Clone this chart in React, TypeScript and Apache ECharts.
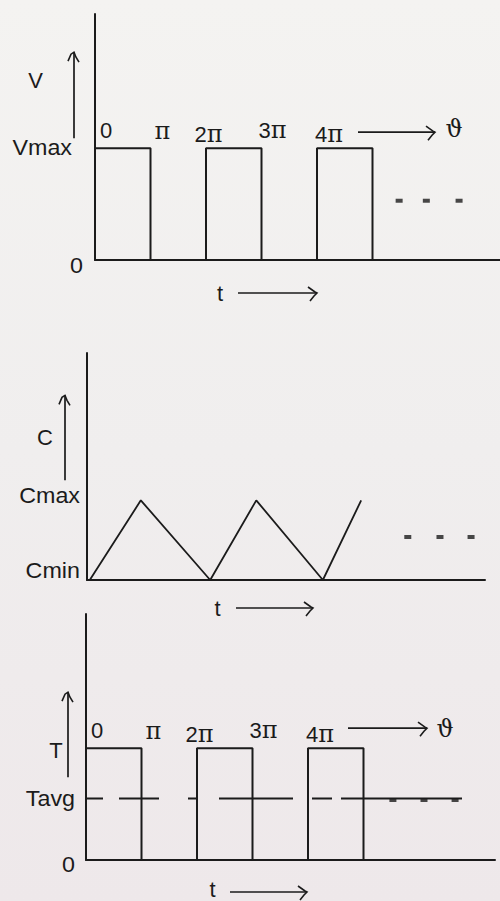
import React, { useEffect, useRef } from "react";
import * as echarts from "echarts";

// Phase is measured in multiples of π (θ / π).
const phaseTicks = [0, 1, 2, 3, 4];
const phaseTickLabels = ["0", "π", "2π", "3π", "4π"];

// Supply voltage: square pulses switching at every multiple of π.
const voltageEdges = [0, 1, 2, 3, 4, 5];
const vmax = 1;
const voltageDots = [5.48, 5.97, 6.56];
const voltageDotLevel = 0.53;

// Capacitance swinging between Cmin (0) and Cmax (1).
const capPhase = [0.05, 0.97, 2.22, 3.05, 4.25, 4.94];
const capLevel = [0, 1, 0, 1, 0, 1];
const capDots = [5.78, 6.36, 6.92];
const capDotLevel = 0.54;

// Torque pulses and their average value.
const torqueEdges = [0, 1, 2, 3, 4, 5];
const tPeak = 1;
const tAvg = 0.55;
const tAvgEnd = 6.78;
const torqueDots = [5.53, 6.09, 6.65];

// ---- layout and style ----
const PX_PER_PI = 55.5;
const panels = [
  { left: 95, top: 14, width: 405, height: 246, yMax: 2.2 },
  { left: 87, top: 353, width: 398, height: 227, yMax: 2.85 },
  { left: 86, top: 614, width: 409, height: 246, yMax: 2.2 },
];
const INK = "#1b1b1b";
const SANS = "'Liberation Sans', Arial, sans-serif";
const SERIF = "'DejaVu Serif', 'Liberation Serif', serif";
const TEXT_SIZE = 22;
const tickNudge = [
  [11, -18],
  [12, -17],
  [2.5, -14],
  [11, -18],
  [12, -14],
];
const tAvgDash = [17, 16, 40, 29, 9, 22, 74, 19, 20, 9, 121];

function squareWave(edges: number[], high: number): number[][] {
  const pts: number[][] = [];
  for (let i = 0; i + 1 < edges.length; i += 2) {
    const a = edges[i];
    const b = edges[i + 1];
    pts.push([a, 0], [a, high], [b, high], [b, 0]);
  }
  return pts;
}

function richPhase(s: string): string {
  return s
    .split("")
    .map((ch) => (ch === "π" ? "{p|π}" : `{d|${ch}}`))
    .join("");
}

function dotSeries(g: number, xs: number[], level: number, offsetY = 0) {
  return {
    type: "scatter",
    xAxisIndex: g,
    yAxisIndex: g,
    symbol: "rect",
    symbolSize: [7, 4],
    symbolOffset: [0, offsetY],
    silent: true,
    itemStyle: { color: INK },
    data: xs.map((x) => [x, level]),
  };
}

function lineSeries(g: number, data: number[][], extra: any = {}) {
  return {
    type: "line",
    xAxisIndex: g,
    yAxisIndex: g,
    showSymbol: false,
    symbol: "none",
    silent: true,
    data,
    lineStyle: { color: INK, width: 2, ...(extra.lineStyle || {}) },
    z: 3,
  };
}

function buildOption() {
  const axisLine = { show: true, lineStyle: { color: INK, width: 2 } };
  return {
    animation: false,
    backgroundColor: new echarts.graphic.LinearGradient(0, 0, 0, 1, [
      { offset: 0, color: "#f4f3f1" },
      { offset: 0.5, color: "#f0eeee" },
      { offset: 1, color: "#eee8ea" },
    ]),
    grid: panels.map((p) => ({
      left: p.left,
      top: p.top,
      width: p.width,
      height: p.height,
    })),
    xAxis: panels.map((p, i) => ({
      type: "value",
      gridIndex: i,
      min: 0,
      max: p.width / PX_PER_PI,
      axisLine,
      axisTick: { show: false },
      axisLabel: { show: false },
      splitLine: { show: false },
    })),
    yAxis: panels.map((p, i) => ({
      type: "value",
      gridIndex: i,
      min: 0,
      max: p.yMax,
      axisLine,
      axisTick: { show: false },
      axisLabel: { show: false },
      splitLine: { show: false },
    })),
    series: [
      lineSeries(0, squareWave(voltageEdges, vmax)),
      dotSeries(0, voltageDots, voltageDotLevel),
      lineSeries(
        1,
        capPhase.map((x, i) => [x, capLevel[i]]),
        { lineStyle: { width: 1.8 } }
      ),
      dotSeries(1, capDots, capDotLevel),
      lineSeries(2, squareWave(torqueEdges, tPeak)),
      lineSeries(
        2,
        [
          [0, tAvg],
          [tAvgEnd, tAvg],
        ],
        { lineStyle: { width: 1.8, type: tAvgDash } }
      ),
      dotSeries(2, torqueDots, tAvg, 1.5),
    ],
  };
}

type Px = (g: number, x: number, y: number) => number[];

function annotations(px: Px) {
  const els: any[] = [];
  const text = (
    x: number,
    y: number,
    s: string,
    align = "center",
    size = TEXT_SIZE,
    family = SANS,
    stretch = 1
  ) =>
    els.push({
      type: "text",
      x,
      y,
      scaleX: stretch,
      silent: true,
      style: {
        text: s,
        fill: INK,
        fontSize: size,
        fontFamily: family,
        lineHeight: Math.round(size * 0.8),
        align,
        verticalAlign: "middle",
      },
    });
  // phase tick labels: digits in sans, π in serif
  const phaseLabel = (x: number, y: number, s: string) =>
    els.push({
      type: "text",
      x,
      y,
      silent: true,
      style: {
        text: richPhase(s),
        align: "center",
        verticalAlign: "middle",
        rich: {
          d: { fontFamily: SANS, fontSize: TEXT_SIZE, fill: INK, lineHeight: 20 },
          p: { fontFamily: SERIF, fontSize: 24, fill: INK, lineHeight: 20 },
        },
      },
    });
  const phaseRow = (g: number, lvl: number) =>
    phaseTicks.forEach((p, i) => {
      const at = px(g, p, lvl);
      phaseLabel(at[0] + tickNudge[i][0], at[1] + tickNudge[i][1], phaseTickLabels[i]);
    });
  const level = (x: number, y: number, s: string) =>
    text(x, y, s, "right", TEXT_SIZE, SANS, 1.06);
  const seg = (x1: number, y1: number, x2: number, y2: number, w = 1.7) =>
    els.push({
      type: "line",
      silent: true,
      shape: { x1, y1, x2, y2 },
      style: { stroke: INK, lineWidth: w },
    });
  const poly = (pts: number[][], w = 1.6) =>
    els.push({
      type: "polyline",
      silent: true,
      shape: { points: pts },
      style: { stroke: INK, fill: "none", lineWidth: w },
    });
  const upArrow = (x: number, yTop: number, yBot: number) => {
    seg(x, yBot, x, yTop);
    poly([
      [x - 6, yTop + 9],
      [x - 3, yTop + 2],
      [x, yTop],
      [x + 2, yTop + 5],
      [x + 5, yTop + 10],
    ]);
  };
  const rightArrow = (x1: number, x2: number, y: number) => {
    seg(x1, y, x2, y);
    poly([
      [x2 - 9, y - 6],
      [x2 - 2, y - 1],
      [x2, y],
      [x2 - 3, y + 3],
      [x2 - 7, y + 8],
    ]);
  };

  // voltage panel
  {
    const o = px(0, 0, 0);
    const top = px(0, 0, vmax);
    const four = px(0, 4, vmax);
    text(o[0] - 59.5, top[1] - 68, "V");
    upArrow(o[0] - 21, top[1] - 96, top[1] - 10);
    level(o[0] - 23, top[1] - 1, "Vmax");
    level(o[0] - 12, o[1] + 5.5, "0");
    text(o[0] + 125, o[1] + 33, "t");
    rightArrow(o[0] + 143, o[0] + 222, o[1] + 33);
    phaseRow(0, vmax);
    rightArrow(four[0] + 41, four[0] + 118, four[1] - 16);
    text(four[0] + 137, four[1] - 19, "ϑ", "center", 24, SERIF);
  }
  // capacitance panel
  {
    const o = px(1, 0, 0);
    const cm = px(1, 0, 1);
    text(o[0] - 42, cm[1] - 63, "C");
    upArrow(o[0] - 22, cm[1] - 105, cm[1] - 20);
    level(o[0] - 7, cm[1] - 5.5, "Cmax");
    level(o[0] - 7, o[1] - 9.5, "Cmin");
    text(o[0] + 130.5, o[1] + 28.5, "t");
    rightArrow(o[0] + 149, o[0] + 226, o[1] + 28);
  }
  // torque panel
  {
    const o = px(2, 0, 0);
    const tp = px(2, 0, tPeak);
    const ta = px(2, 0, tAvg);
    const four = px(2, 4, tPeak);
    text(o[0] - 30, tp[1] + 2, "T");
    upArrow(o[0] - 18, tp[1] - 56, tp[1] + 29);
    level(o[0] - 11, ta[1], "Tavg");
    level(o[0] - 11, o[1] + 4.5, "0");
    text(o[0] + 126.5, o[1] + 29, "t");
    rightArrow(o[0] + 144, o[0] + 221, o[1] + 32);
    phaseRow(2, tPeak);
    rightArrow(four[0] + 40, four[0] + 119, four[1] - 20);
    text(four[0] + 137, four[1] - 19, "ϑ", "center", 24, SERIF);
  }
  return els;
}

export default function App() {
  const ref = useRef<HTMLDivElement>(null);
  useEffect(() => {
    if (!ref.current) return;
    const chart = echarts.init(ref.current, null, { renderer: "svg" });
    chart.setOption(buildOption() as any);
    const px: Px = (g, x, y) =>
      chart.convertToPixel({ gridIndex: g } as any, [x, y]) as number[];
    chart.setOption({ graphic: annotations(px) } as any);
    return () => chart.dispose();
  }, []);
  return (
    <div
      ref={ref}
      style={{ position: "absolute", left: 0, top: 0, width: 500, height: 901 }}
    />
  );
}
